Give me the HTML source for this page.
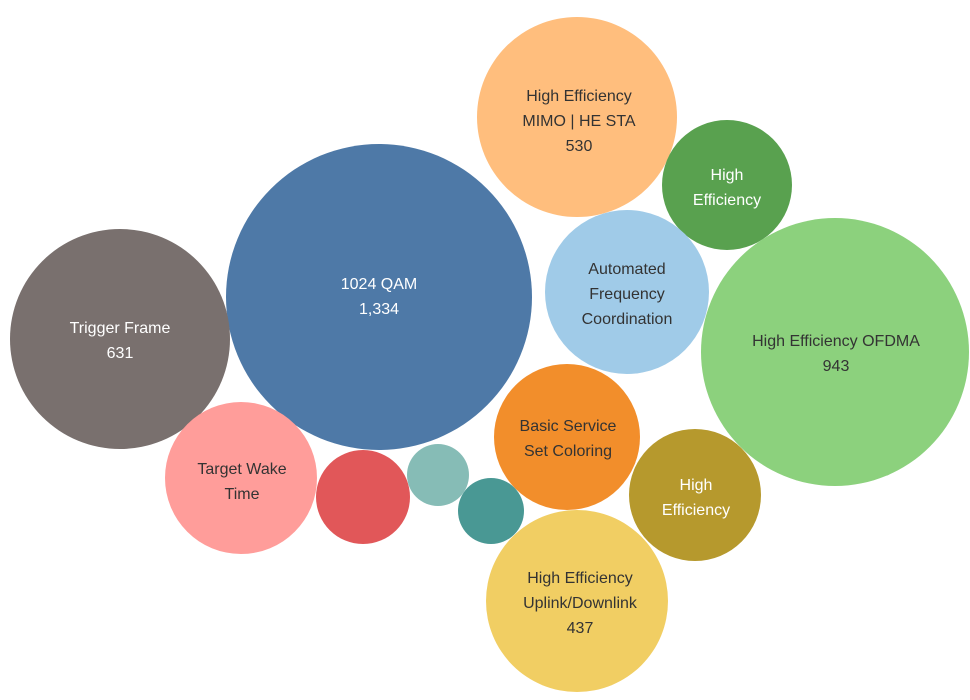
<!DOCTYPE html>
<html><head><meta charset="utf-8"><style>
html,body{margin:0;padding:0;background:#fff;width:970px;height:700px;overflow:hidden}
text{font-family:"Liberation Sans",sans-serif;font-size:16px;text-anchor:middle}
.w{fill:#fff}.d{fill:#333}
</style></head><body>
<svg width="970" height="700" viewBox="0 0 970 700">
<circle cx="379" cy="297" r="153" fill="#4e79a7"/>
<circle cx="120" cy="339" r="110" fill="#79706e"/>
<circle cx="577" cy="117" r="100" fill="#ffbe7d"/>
<circle cx="727" cy="185" r="65" fill="#59a14f"/>
<circle cx="627" cy="292" r="82" fill="#a0cbe8"/>
<circle cx="835" cy="352" r="134" fill="#8cd17d"/>
<circle cx="567" cy="437" r="73" fill="#f28e2b"/>
<circle cx="695" cy="495" r="66" fill="#b6992d"/>
<circle cx="577" cy="601" r="91" fill="#f1ce63"/>
<circle cx="241" cy="478" r="76" fill="#ff9d9a"/>
<circle cx="363" cy="497" r="47" fill="#e15759"/>
<circle cx="438" cy="475" r="31" fill="#86bcb6"/>
<circle cx="491" cy="511" r="33" fill="#499894"/>
<text class="w" x="379" y="289">1024 QAM</text>
<text class="w" x="379" y="314">1,334</text>
<text class="w" x="120" y="333">Trigger Frame</text>
<text class="w" x="120" y="358">631</text>
<text class="d" x="579" y="101">High Efficiency</text>
<text class="d" x="579" y="126">MIMO | HE STA</text>
<text class="d" x="579" y="151">530</text>
<text class="w" x="727" y="180">High</text>
<text class="w" x="727" y="205">Efficiency</text>
<text class="d" x="627" y="274">Automated</text>
<text class="d" x="627" y="299">Frequency</text>
<text class="d" x="627" y="324">Coordination</text>
<text class="d" x="836" y="346">High Efficiency OFDMA</text>
<text class="d" x="836" y="371">943</text>
<text class="d" x="568" y="431">Basic Service</text>
<text class="d" x="568" y="456">Set Coloring</text>
<text class="w" x="696" y="490">High</text>
<text class="w" x="696" y="515">Efficiency</text>
<text class="d" x="580" y="583">High Efficiency</text>
<text class="d" x="580" y="608">Uplink/Downlink</text>
<text class="d" x="580" y="633">437</text>
<text class="d" x="242" y="474">Target Wake</text>
<text class="d" x="242" y="499">Time</text>
</svg>
</body></html>
